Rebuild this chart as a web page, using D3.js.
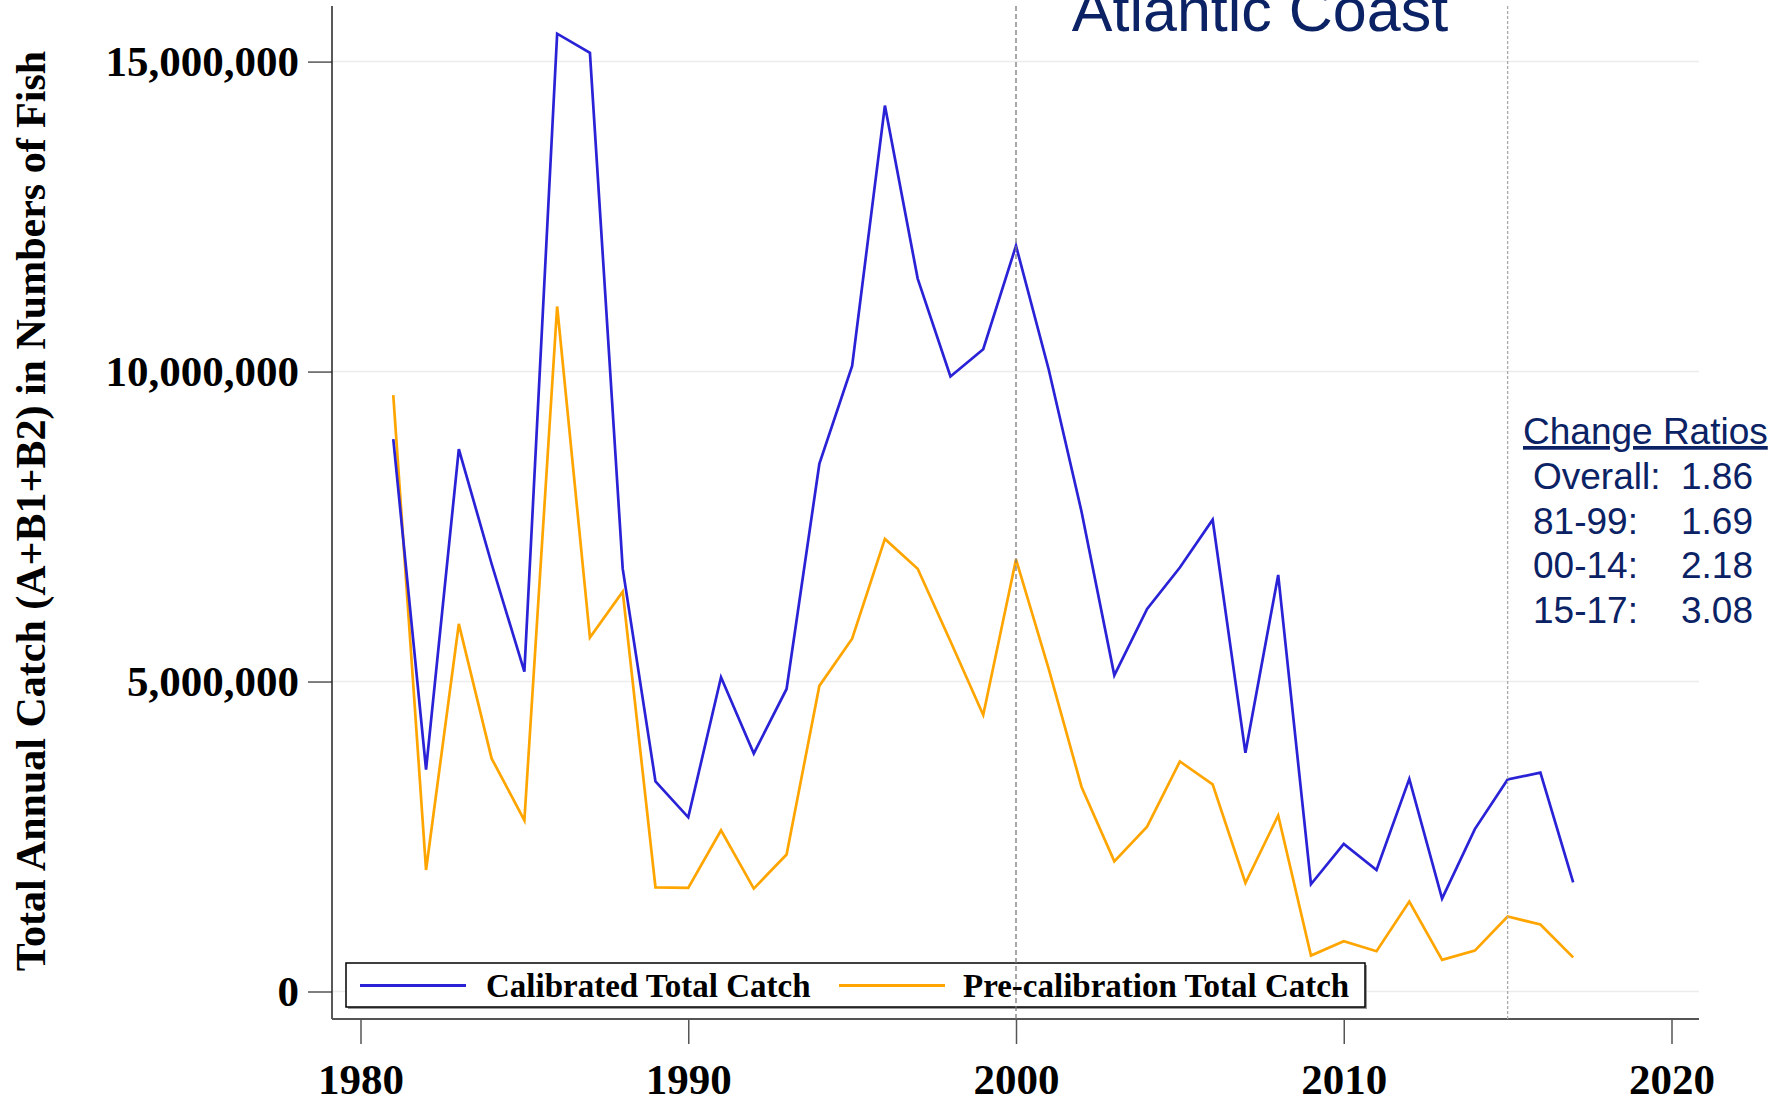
<!DOCTYPE html>
<html>
<head>
<meta charset="utf-8">
<script src="https://cdn.jsdelivr.net/npm/d3@7"></script>
<style>
  body { margin: 0; background: #fff; }
  svg { display: block; }
</style>
</head>
<body>
<svg id="chart"></svg>
<script>
const svg_width = 1789;
const svg_height = 1100;

// data
const years = d3.range(1981, 2018);
const calibrated = [
  8.91, 3.58, 8.75, 6.90, 5.16, 15.45, 15.14, 6.82, 3.39, 2.81,
  5.07, 3.84, 4.88, 8.51, 10.09, 14.29, 11.50, 9.92, 10.36, 12.03,
  10.03, 7.74, 5.10, 6.17, 6.84, 7.61, 3.85, 6.72, 1.73, 2.38,
  1.96, 3.43, 1.50, 2.62, 3.42, 3.53, 1.76
].map(d => d * 1e6);
const precalibration = [
  9.62, 1.96, 5.93, 3.76, 2.76, 11.05, 5.71, 6.45, 1.68, 1.67,
  2.60, 1.66, 2.21, 4.93, 5.69, 7.30, 6.82, 5.65, 4.46, 6.97,
  5.20, 3.30, 2.10, 2.66, 3.71, 3.34, 1.75, 2.84, 0.58, 0.81,
  0.65, 1.45, 0.51, 0.66, 1.21, 1.08, 0.55
].map(d => d * 1e6);
const yTicks = [0, 5000000, 10000000, 15000000];
const xTicks = [1980, 1990, 2000, 2010, 2020];
const refYears = [2000, 2015];
const seriesNames = ['Calibrated Total Catch', 'Pre-calibration Total Catch'];
const ratioLabels = ['Overall:', '81-99:', '00-14:', '15-17:'];
const ratioValues = ['1.86', '1.69', '2.18', '3.08'];

const blue = '#2a22d6';
const orange = '#ffa500';
const navy = '#0b2265';
const serif = '"Liberation Serif", "Times New Roman", serif';
const sans = '"Liberation Sans", Arial, sans-serif';

const svg = d3.select('#chart')
  .attr('width', svg_width)
  .attr('height', svg_height);

const plot = {left: 332, right: 1699, top: 6, bottom: 1019};

const x = d3.scaleLinear().domain([1980, 2020]).range([360.5, 1671.5]);
const y = d3.scaleLinear().domain([0, 15000000]).range([991.5, 61.6]);

// gridlines
svg.append('g')
  .selectAll('line')
  .data(yTicks)
  .join('line')
  .attr('x1', plot.left)
  .attr('x2', plot.right)
  .attr('y1', d => y(d))
  .attr('y2', d => y(d))
  .attr('stroke', '#ececec')
  .attr('stroke-width', 1.5);

// y axis
const yAxis = svg.append('g')
  .attr('transform', `translate(${plot.left},0)`)
  .call(d3.axisLeft(y).tickValues(yTicks).tickSize(24).tickPadding(9)
    .tickFormat(d3.format(',')));
yAxis.select('.domain').remove();
yAxis.selectAll('.tick line').attr('stroke', '#555').attr('stroke-width', 1.5);
yAxis.selectAll('.tick text')
  .attr('font-family', serif)
  .attr('font-weight', 'bold')
  .attr('font-size', '43px')
  .attr('fill', '#000');

// x axis
const xAxis = svg.append('g')
  .attr('transform', `translate(0,${plot.bottom})`)
  .call(d3.axisBottom(x).tickValues(xTicks).tickSize(25).tickPadding(19)
    .tickFormat(d3.format('d')));
xAxis.select('.domain').remove();
xAxis.selectAll('.tick line').attr('stroke', '#555').attr('stroke-width', 1.5);
xAxis.selectAll('.tick text')
  .attr('font-family', serif)
  .attr('font-weight', 'bold')
  .attr('font-size', '43px')
  .attr('fill', '#000');

// axis lines
svg.append('line')
  .attr('x1', plot.left).attr('x2', plot.left)
  .attr('y1', plot.top).attr('y2', plot.bottom)
  .attr('stroke', '#222').attr('stroke-width', 1.5);
svg.append('line')
  .attr('x1', plot.left).attr('x2', plot.right)
  .attr('y1', plot.bottom).attr('y2', plot.bottom)
  .attr('stroke', '#555').attr('stroke-width', 2);

// series
const line = d3.line().x((d, i) => x(years[i])).y(d => y(d));

svg.append('path')
  .datum(precalibration)
  .attr('d', line)
  .attr('fill', 'none')
  .attr('stroke', orange)
  .attr('stroke-width', 2.7);

svg.append('path')
  .datum(calibrated)
  .attr('d', line)
  .attr('fill', 'none')
  .attr('stroke', blue)
  .attr('stroke-width', 2.7);

// legend
const legend = svg.append('g');
legend.append('rect')
  .attr('x', 348).attr('y', 965)
  .attr('width', 1019).attr('height', 44)
  .attr('fill', '#999');
legend.append('rect')
  .attr('x', 346).attr('y', 963)
  .attr('width', 1019).attr('height', 44)
  .attr('fill', '#fff')
  .attr('stroke', '#000')
  .attr('stroke-width', 1.5);

const legendItems = [
  {name: seriesNames[0], color: blue, x: 360, tx: 486},
  {name: seriesNames[1], color: orange, x: 839, tx: 963}
];
legendItems.forEach(d => {
  legend.append('line')
    .attr('x1', d.x).attr('x2', d.x + 106)
    .attr('y1', 985.5).attr('y2', 985.5)
    .attr('stroke', d.color)
    .attr('stroke-width', 2.8);
  legend.append('text')
    .attr('x', d.tx).attr('y', 997)
    .attr('font-family', serif)
    .attr('font-weight', 'bold')
    .attr('font-size', '33px')
    .attr('fill', '#000')
    .text(d.name);
});

// reference lines
svg.selectAll('.ref')
  .data(refYears)
  .join('line')
  .attr('class', 'ref')
  .attr('x1', d => x(d)).attr('x2', d => x(d))
  .attr('y1', plot.top).attr('y2', plot.bottom)
  .attr('stroke', (d, i) => i === 0 ? '#7a7a7a' : '#aaaaaa')
  .attr('stroke-width', 1.3)
  .attr('stroke-dasharray', (d, i) => i === 0 ? '5,3' : '3,2');

// y title
svg.append('text')
  .attr('transform', 'translate(45,511) rotate(-90)')
  .attr('text-anchor', 'middle')
  .attr('font-family', serif)
  .attr('font-weight', 'bold')
  .attr('font-size', '42px')
  .attr('fill', '#000')
  .text('Total Annual Catch (A+B1+B2) in Numbers of Fish');

// title, cut at the top
svg.append('text')
  .attr('x', 1260).attr('y', 31)
  .attr('text-anchor', 'middle')
  .attr('font-family', sans)
  .attr('font-size', '61px')
  .attr('fill', navy)
  .text('Atlantic Coast');

// change ratios
svg.append('text')
  .attr('x', 1523).attr('y', 444)
  .attr('font-family', sans)
  .attr('font-size', '37px')
  .attr('fill', navy)
  .attr('text-decoration', 'underline')
  .text('Change Ratios');

ratioLabels.forEach((d, i) => {
  svg.append('text')
    .attr('x', 1533).attr('y', 489 + i * 44.7)
    .attr('font-family', sans)
    .attr('font-size', '37px')
    .attr('fill', navy)
    .text(d);
  svg.append('text')
    .attr('x', 1681).attr('y', 489 + i * 44.7)
    .attr('font-family', sans)
    .attr('font-size', '37px')
    .attr('fill', navy)
    .text(ratioValues[i]);
});
</script>
</body>
</html>
